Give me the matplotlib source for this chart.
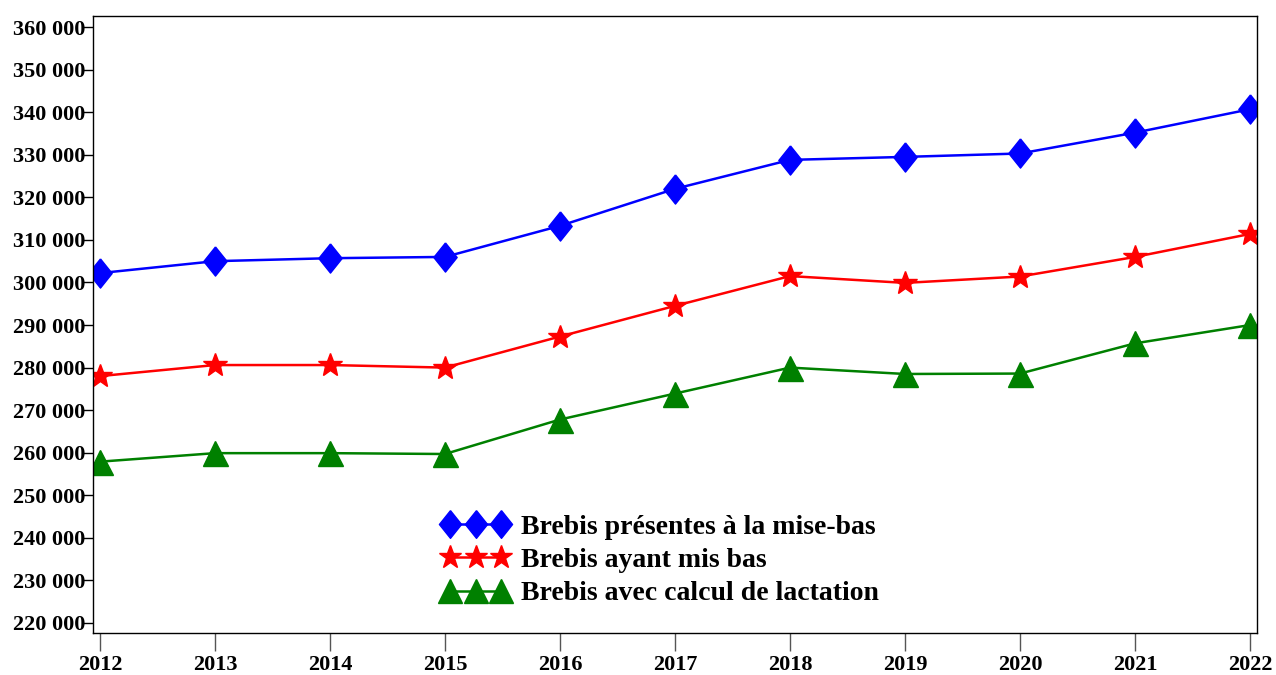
import numpy as np
import matplotlib
matplotlib.use('Agg')
import matplotlib.pyplot as plt
from matplotlib.ticker import FuncFormatter

plt.rcParams['font.family'] = ['Liberation Serif', 'DejaVu Serif']
plt.rcParams['font.weight'] = 'bold'

# données
annees = [2012, 2013, 2014, 2015, 2016, 2017, 2018, 2019, 2020, 2021, 2022]
presentes = [302200, 305000, 305700, 306000, 313300, 322000, 328800, 329500, 330300, 335200, 340700]
ayant_mis_bas = [278000, 280600, 280600, 280000, 287300, 294500, 301500, 299900, 301400, 306000, 311400]
avec_lactation = [257900, 259900, 259900, 259700, 267800, 273900, 280000, 278500, 278600, 285700, 290000]
labels = ['Brebis présentes à la mise-bas', 'Brebis ayant mis bas', 'Brebis avec calcul de lactation']
yticks = list(range(220000, 360001, 10000))

fig = plt.figure(figsize=(12.76, 6.75), dpi=100)
ax = fig.add_axes([93 / 1276, 1 - 633 / 675, (1257 - 93) / 1276, (633 - 16) / 675])

# losange un peu étroit
losange = [(0, 1), (0.8, 0), (0, -1), (-0.8, 0), (0, 1)]

ax.plot(annees, presentes, color='blue', lw=1.8, marker=losange, markersize=21, label=labels[0])
ax.plot(annees, ayant_mis_bas, color='red', lw=1.8, marker='*', markersize=18, label=labels[1])
ax.plot(annees, avec_lactation, color='green', lw=1.8, marker='^', markersize=18, label=labels[2])

ax.set_xlim(2011.94, 2022.06)
ax.set_ylim(217650, 362600)
ax.set_xticks(annees)
ax.set_yticks(yticks)
ax.yaxis.set_major_formatter(FuncFormatter(lambda v, p: f'{int(v):,}'.replace(',', ' ')))

ax.tick_params(axis='y', direction='out', length=7, width=1, pad=-1.5, labelsize=16)
ax.tick_params(axis='x', direction='out', length=13, width=1, pad=3, labelsize=16, color='#555555')
for s in ax.spines.values():
    s.set_linewidth(1)

ax.legend(loc='upper left', bbox_to_anchor=(0.2995, 0.192), frameon=False, fontsize=20,
          numpoints=3, borderpad=0, borderaxespad=0, handlelength=2.45, handletextpad=0.42,
          labelspacing=0.28, markerscale=0.95)

plt.savefig('out.png', dpi=100)
